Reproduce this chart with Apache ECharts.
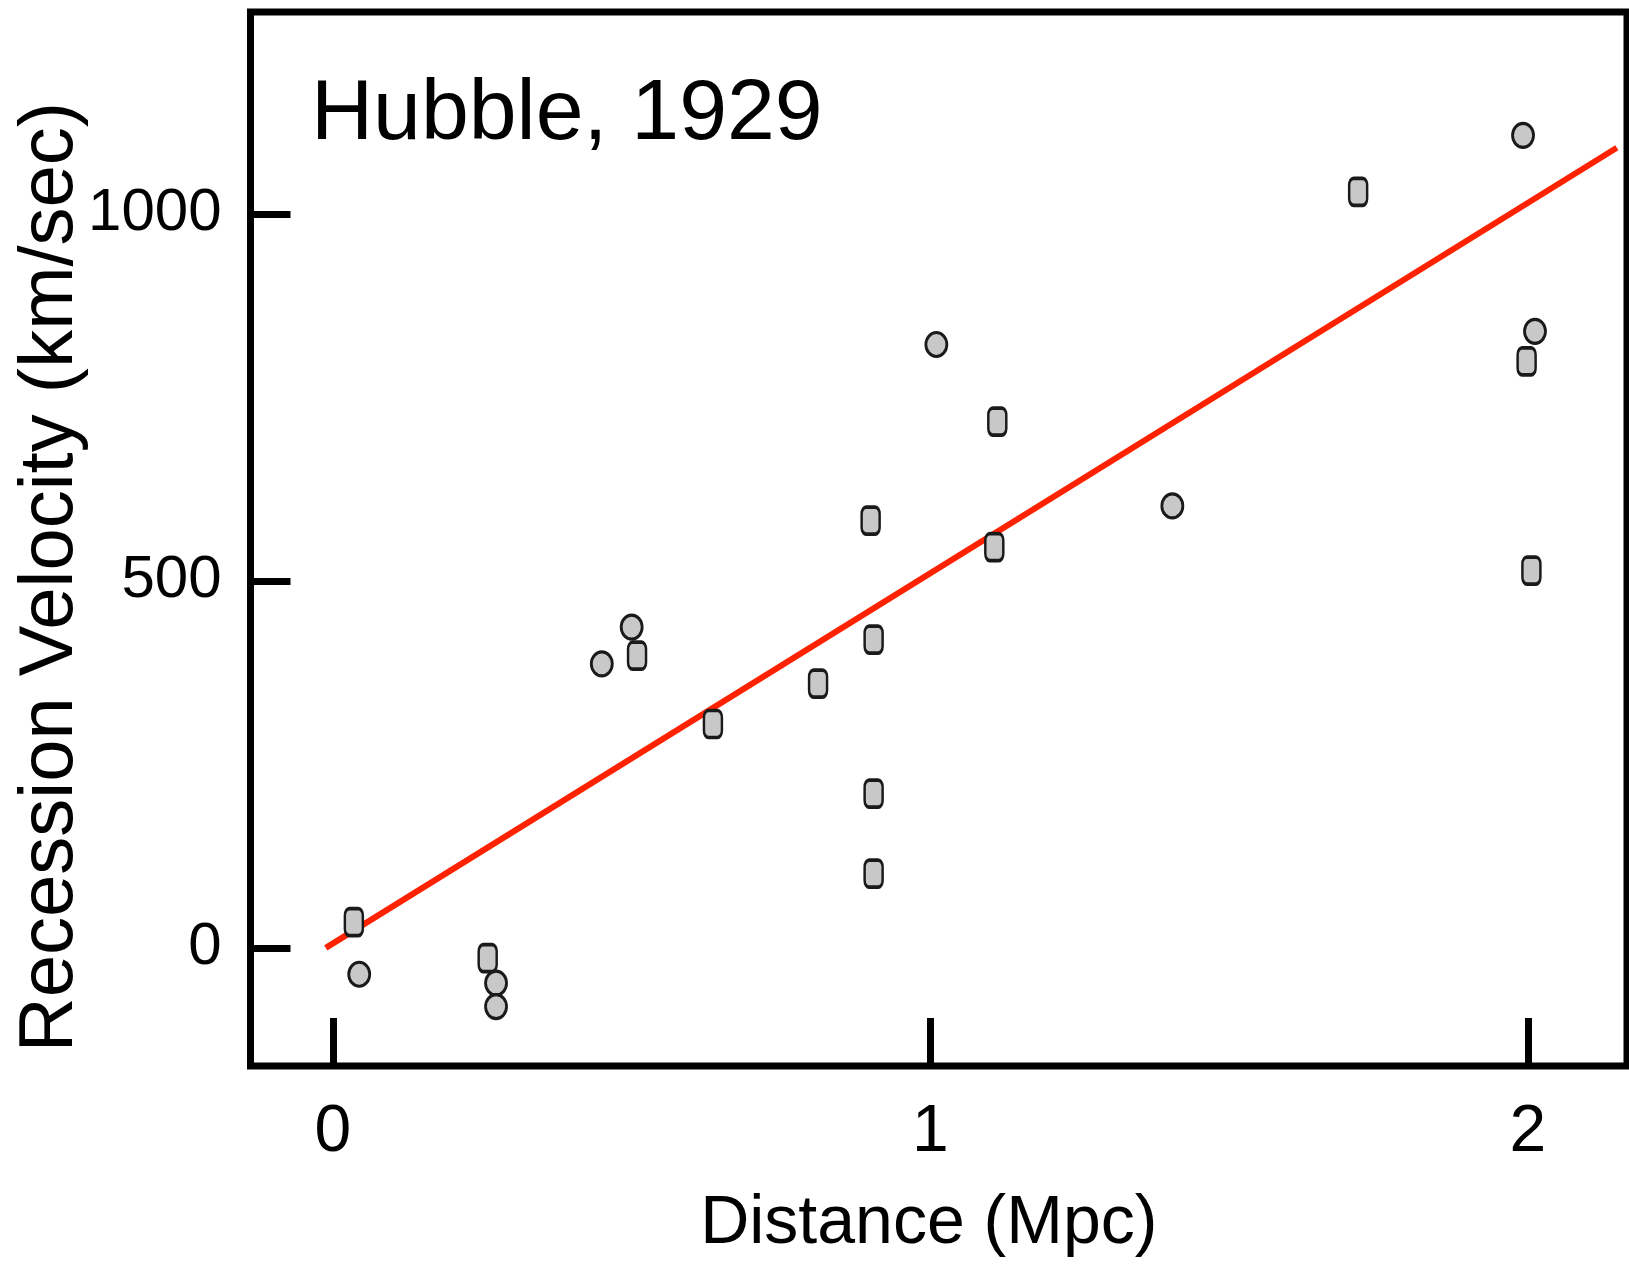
<!DOCTYPE html>
<html>
<head>
<meta charset="utf-8">
<title>Hubble, 1929</title>
<script src="https://cdn.jsdelivr.net/npm/echarts@6.0.0/dist/echarts.min.js"></script>
<style>
  html, body { margin: 0; padding: 0; background: #fff; }
  #container { width: 1629px; height: 1266px; }
</style>
</head>
<body>
<div id="container"></div>
<script>
// nebulae drawn as round dots
var circleDist = [0.044, 0.273, 0.273, 0.450, 0.500, 1.010, 1.405, 1.992, 2.012];
var circleVel  = [-36, -48, -80, 387, 437, 822, 602, 1107, 840];
// nebulae drawn as rounded bars
var rectDist = [0.035, 0.259, 0.509, 0.636, 0.812, 0.900, 0.905, 0.905, 0.905, 1.112, 1.107, 1.716, 1.998, 2.006];
var rectVel  = [35, -14, 398, 305, 360, 582, 420, 210, 101, 717, 546, 1030, 799, 514];
// fitted line end points
var fitDist = [-0.012, 2.149];
var fitVel  = [0, 1090];

var xTicks = [0, 1, 2];
var yTicks = [0, 500, 1000];

var sans = "'Liberation Sans', Arial, sans-serif";

function pairs(xs, ys) {
  return xs.map(function (x, i) { return [x, ys[i]]; });
}

var dom = document.getElementById('container');
var myChart = echarts.init(dom, null, { renderer: 'canvas' });

var option = {
  animation: false,
  backgroundColor: '#fff',
  grid: {
    show: true,
    left: 250.5,
    top: 12,
    right: 2,
    bottom: 200,
    borderColor: '#000',
    borderWidth: 7,
    backgroundColor: 'transparent'
  },
  xAxis: {
    type: 'value',
    min: -0.138,
    max: 2.166,
    name: 'Distance (Mpc)',
    nameLocation: 'middle',
    nameGap: 124,
    nameTextStyle: { fontSize: 68, fontFamily: sans, color: '#000', padding: [0, 20, 0, 0] },
    axisLine: { show: false, onZero: false },
    splitLine: { show: false },
    axisTick: {
      show: true, inside: true, length: 48,
      customValues: xTicks,
      lineStyle: { color: '#000', width: 7 }
    },
    axisLabel: {
      customValues: xTicks,
      margin: 34,
      fontSize: 66,
      fontFamily: sans,
      color: '#000',
      formatter: function (v) { return String(v); }
    }
  },
  yAxis: {
    type: 'value',
    min: -161,
    max: 1275,
    axisLine: { show: false, onZero: false },
    splitLine: { show: false },
    axisTick: {
      show: true, inside: true, length: 40,
      customValues: yTicks,
      lineStyle: { color: '#000', width: 7 }
    },
    axisLabel: {
      customValues: yTicks,
      margin: 29,
      fontSize: 60,
      fontFamily: sans,
      color: '#000',
      formatter: function (v) { return String(v); }
    }
  },
  graphic: [
    {
      type: 'text',
      left: 311,
      top: 72,
      style: { text: 'Hubble, 1929', fontSize: 86, fontFamily: sans, fill: '#000' }
    },
    {
      type: 'text',
      x: 51,
      y: 577,
      rotation: Math.PI / 2,
      style: {
        text: 'Recession Velocity (km/sec)',
        fontSize: 76, fontFamily: sans, fill: '#000',
        align: 'center', verticalAlign: 'middle'
      }
    }
  ],
  series: [
    {
      type: 'line',
      data: pairs(fitDist, fitVel),
      showSymbol: false,
      silent: true,
      lineStyle: { color: '#ff2200', width: 6 },
      z: 2
    },
    {
      type: 'scatter',
      data: pairs(circleDist, circleVel),
      symbol: 'circle',
      symbolSize: [21, 24],
      itemStyle: { color: '#c8c8c8', borderColor: '#1a1a1a', borderWidth: 3, opacity: 1 },
      z: 3
    },
    {
      type: 'scatter',
      data: pairs(rectDist, rectVel),
      symbol: 'roundRect',
      symbolSize: [18, 27],
      itemStyle: { color: '#c8c8c8', borderColor: '#1a1a1a', borderWidth: 3, opacity: 1 },
      z: 3
    }
  ]
};

myChart.setOption(option);

window.addEventListener('resize', function () {
  myChart.resize();
});
</script>
</body>
</html>
